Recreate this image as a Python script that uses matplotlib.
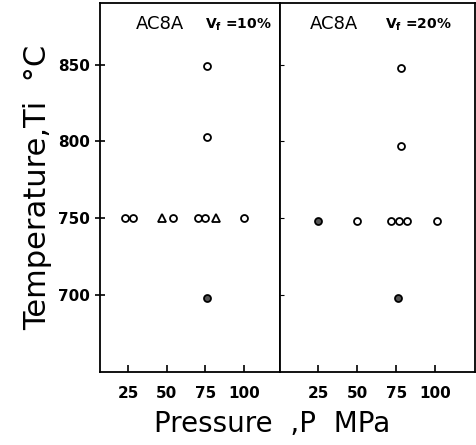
import matplotlib.pyplot as plt

# pressure (MPa) and infiltration temperature (deg C)
# left panel: Vf = 10 %
p10_open = [23, 28, 54, 70, 75, 100, 76, 76]
t10_open = [750, 750, 750, 750, 750, 750, 849, 803]
p10_tri = [47, 82]
t10_tri = [750, 750]
p10_fill = [76]
t10_fill = [698]

# right panel: Vf = 20 %
p20_open = [50, 72, 77, 82, 101, 78, 78]
t20_open = [748, 748, 748, 748, 748, 848, 797]
p20_fill = [25, 76]
t20_fill = [748, 698]

xticks = [25, 50, 75, 100]
yticks = [700, 750, 800, 850]

fig, (ax1, ax2) = plt.subplots(1, 2, figsize=(4.77, 4.45), dpi=100, sharey=True,
                               gridspec_kw={'width_ratios': [180, 195]})
fig.subplots_adjust(left=0.21, right=0.996, bottom=0.164, top=0.993, wspace=0)

ms = 5
ax1.plot(p10_open, t10_open, 'o', mfc='white', mec='black', mew=1.3, ms=ms, ls='none')
ax1.plot(p10_tri, t10_tri, '^', mfc='white', mec='black', mew=1.3, ms=ms + 0.5, ls='none')
ax1.plot(p10_fill, t10_fill, 'o', mfc='#555555', mec='black', mew=1.3, ms=ms, ls='none')

ax2.plot(p20_open, t20_open, 'o', mfc='white', mec='black', mew=1.3, ms=ms, ls='none')
ax2.plot(p20_fill, t20_fill, 'o', mfc='#555555', mec='black', mew=1.3, ms=ms, ls='none')

ax1.set_xlim(7, 123.3)
ax2.set_xlim(0.6, 125.6)
ax1.set_ylim(650, 890)

for ax in (ax1, ax2):
    ax.set_xticks(xticks)
    ax.tick_params(axis='x', direction='in', length=5, width=1.2, labelsize=11, pad=10)
    for lab in ax.get_xticklabels():
        lab.set_fontweight('bold')
    for s in ax.spines.values():
        s.set_linewidth(1.3)

ax1.set_yticks(yticks)
ax1.tick_params(axis='y', direction='inout', length=7, width=1.2, labelsize=11, pad=4)
for lab in ax1.get_yticklabels():
    lab.set_fontweight('bold')
ax2.tick_params(axis='y', direction='in', length=3, left=True)

ax1.text(0.2, 0.93, 'AC8A', transform=ax1.transAxes, fontsize=13)
ax1.text(0.58, 0.93, '$\\mathbf{V_f}$ =10%', transform=ax1.transAxes, fontsize=10, fontweight='bold')
ax2.text(0.15, 0.93, 'AC8A', transform=ax2.transAxes, fontsize=13)
ax2.text(0.54, 0.93, '$\\mathbf{V_f}$ =20%', transform=ax2.transAxes, fontsize=10, fontweight='bold')

ax1.set_ylabel('Temperature,Ti  °C', fontsize=22, labelpad=4)
fig.text(0.57, 0.03, 'Pressure  ,P  MPa', ha='center', fontsize=20)

plt.savefig('out.png', dpi=100)
